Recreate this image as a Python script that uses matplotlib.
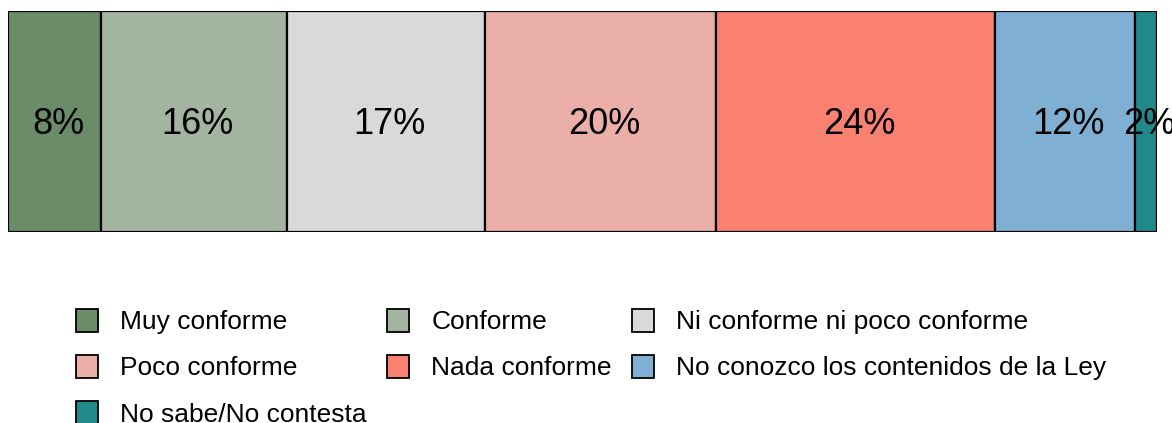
import matplotlib
matplotlib.use("Agg")
import matplotlib.pyplot as plt
from matplotlib import font_manager as fm
from matplotlib.patches import Patch

# pick the regular (not narrow) Liberation Sans file
reg = [f.fname for f in fm.fontManager.ttflist if f.fname.endswith("LiberationSans-Regular.ttf")]
fp = fm.FontProperties(fname=reg[0]) if reg else fm.FontProperties(family='DejaVu Sans')

categories = ["Muy conforme", "Conforme", "Ni conforme ni poco conforme",
              "Poco conforme", "Nada conforme",
              "No conozco los contenidos de la Ley", "No sabe/No contesta"]
values = [8.1, 16.2, 17.2, 20.1, 24.3, 12.2, 1.9]
labels = ["8%", "16%", "17%", "20%", "24%", "12%", "2%"]
colors = ["#6a8c69", "#a3b5a0", "#d9d9d9", "#ebafaa", "#fa8072", "#7fb0d3", "#21898a"]

fig = plt.figure(figsize=(11.72, 4.23), dpi=100)
ax = fig.add_axes([8/1172, 1 - 232/423, 1149/1172, 221/423])

left = 0
for v, lab, c in zip(values, labels, colors):
    ax.barh(0, v, left=left, height=1, color=c, edgecolor='black', linewidth=1.6)
    ax.text(left + v/2 + 0.3, -0.015, lab, ha='center', va='center',
            fontproperties=fp, fontsize=26)
    left += v

ax.set_xlim(0, sum(values))
ax.set_ylim(-0.5, 0.5)
ax.axis('off')

# legend filled row by row
order = [0, 3, 6, 1, 4, 2, 5]
handles = [Patch(facecolor=colors[i], edgecolor='black', linewidth=1.3) for i in order]
lp = fp.copy()
lp.set_size(19)
fig.legend(handles, [categories[i] for i in order], ncol=3, frameon=False,
           loc='upper left', bbox_to_anchor=(76/1172, 1 - 309/423),
           prop=lp, handlelength=0.84, handleheight=0.95, handletextpad=0.84,
           columnspacing=0.76, labelspacing=0.78, borderaxespad=0, borderpad=0)

fig.savefig("out.png", dpi=100)
